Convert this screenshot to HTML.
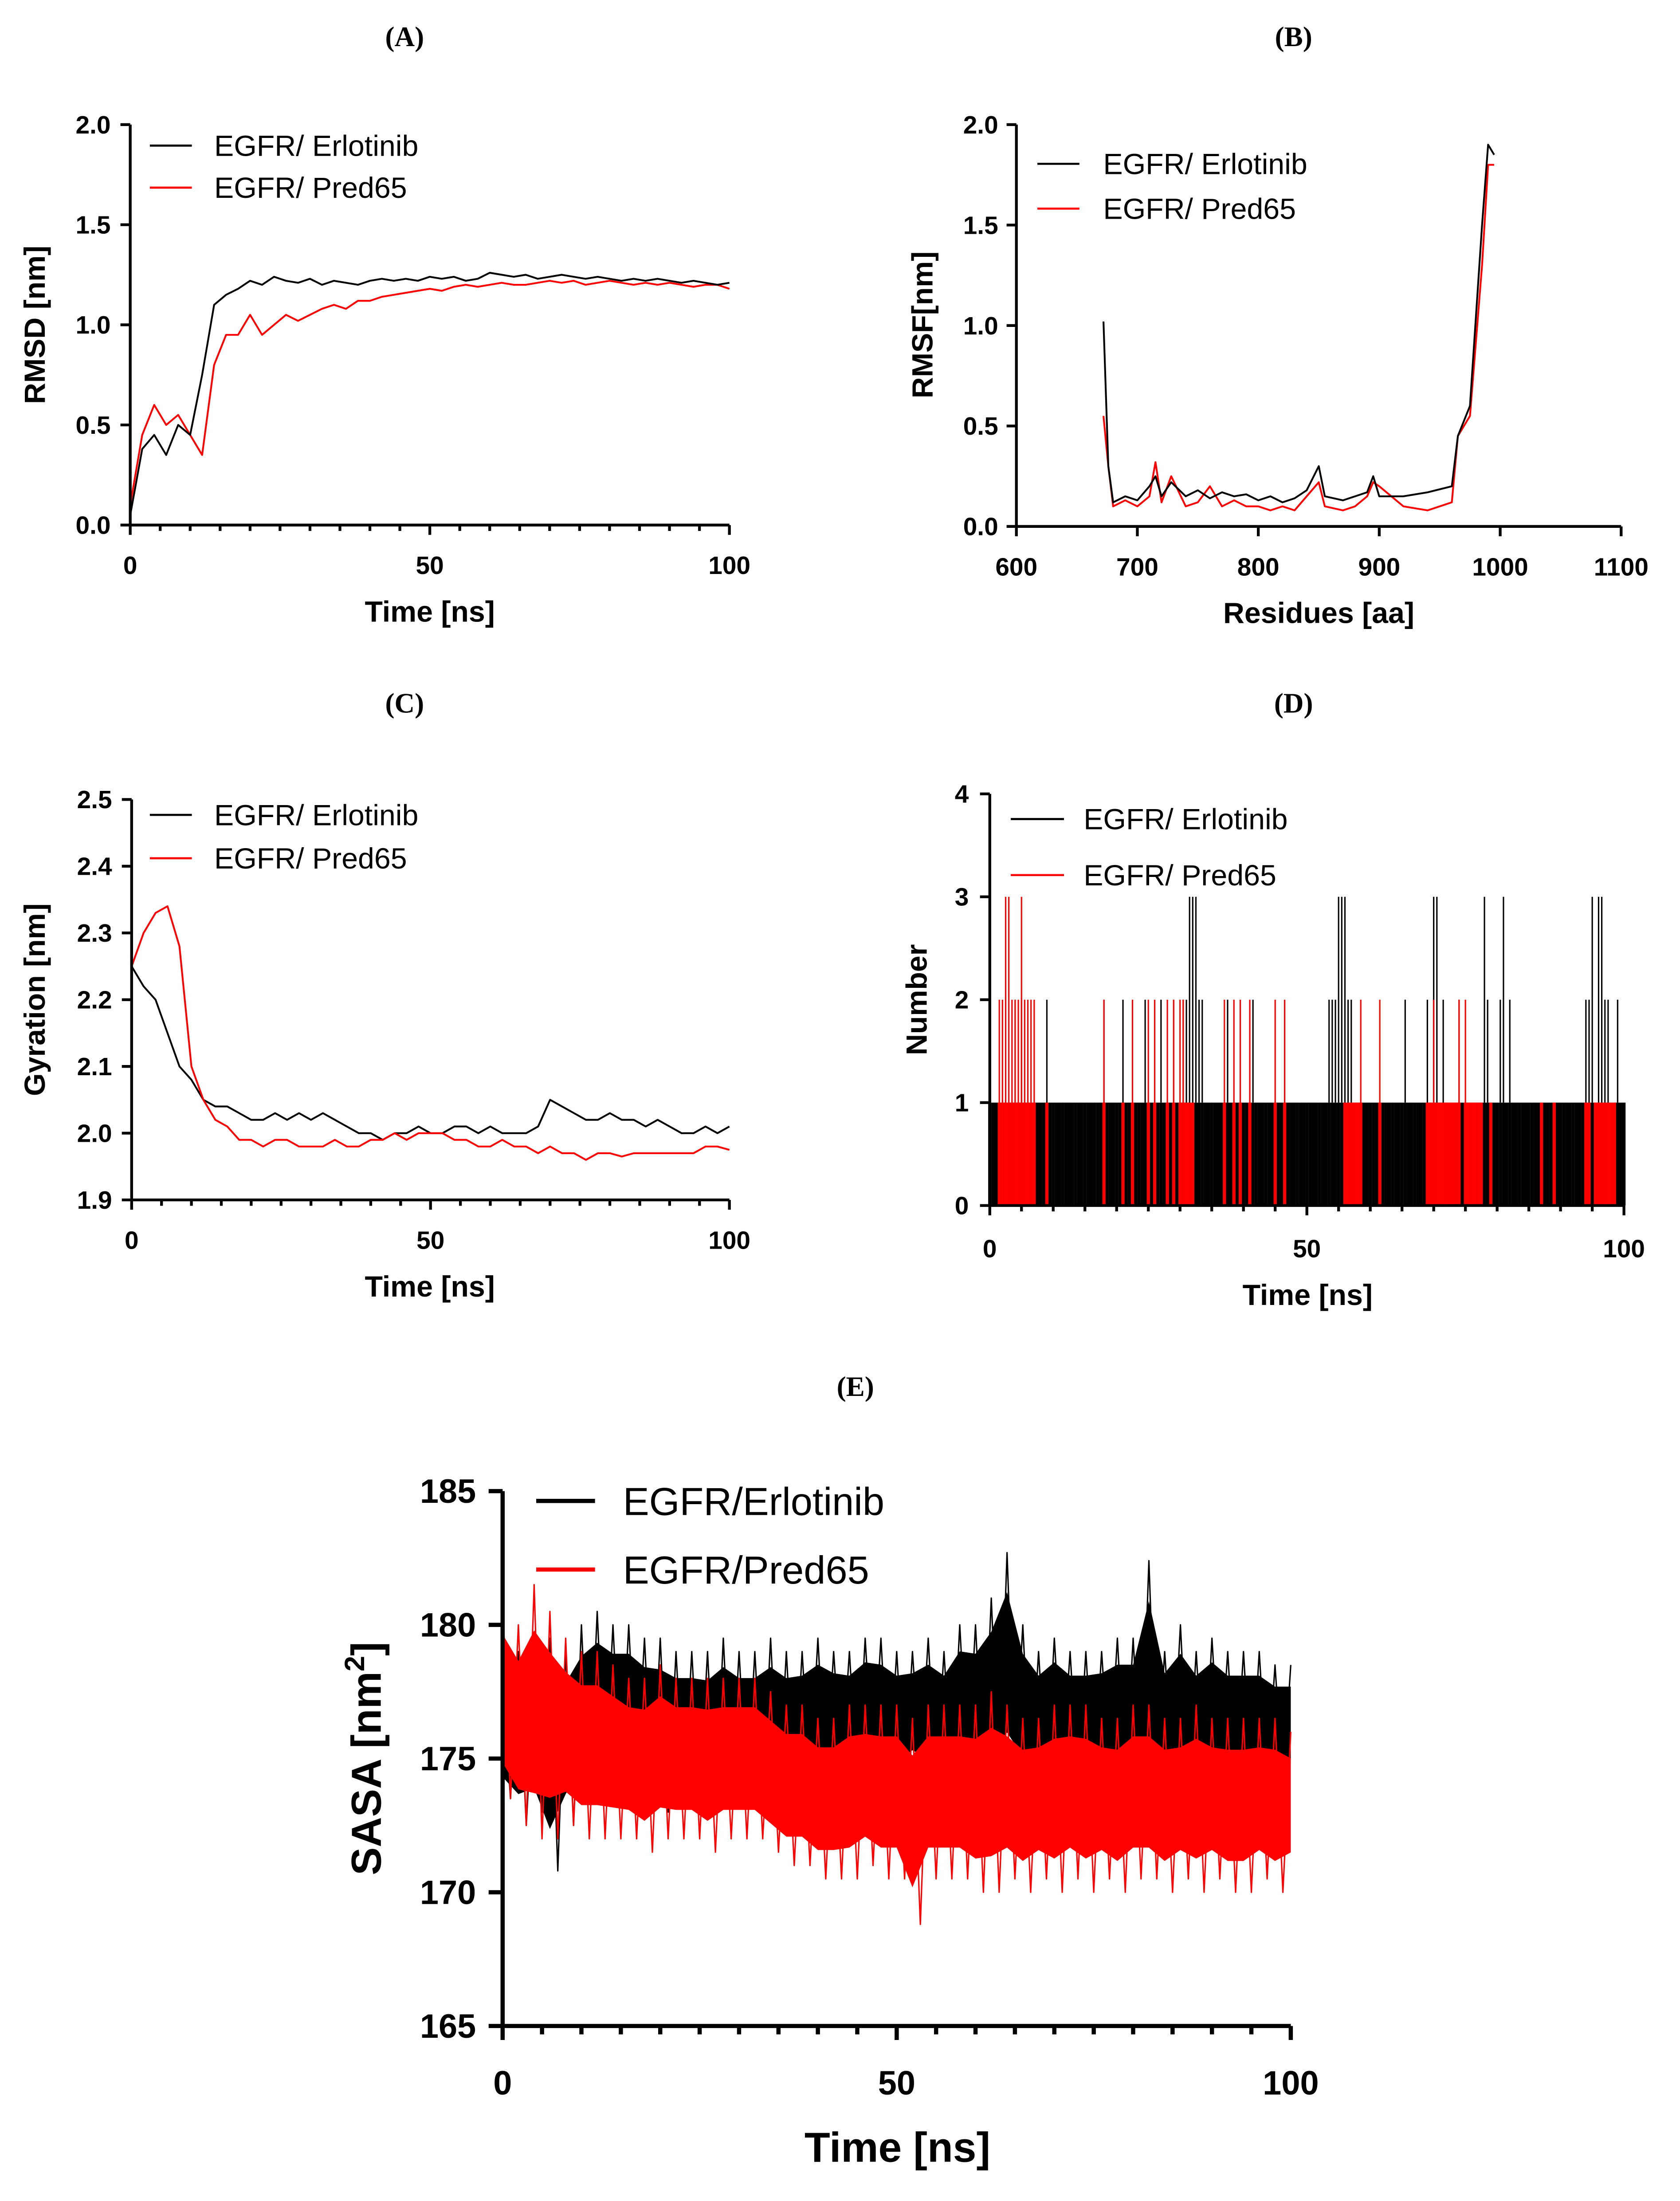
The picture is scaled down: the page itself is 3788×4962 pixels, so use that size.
<!DOCTYPE html>
<html><head><meta charset="utf-8"><style>
html,body{margin:0;padding:0;background:#fff}
svg{display:block}
text{font-family:"Liberation Sans",Arial,sans-serif}
.pl{font-family:"Liberation Serif",serif;font-weight:bold;font-size:20px}
.ti{font-weight:bold;font-size:21px}
</style></head><body>
<svg id="fig" xmlns="http://www.w3.org/2000/svg" width="3788" height="4962" viewBox="0 0 1200 1572">
<rect width="1200" height="1572" fill="#fff"/>
</svg>
<script>
const rmsdTimeStep = 2;
const rmsdErlotinib = [0.05,0.38,0.45,0.35,0.5,0.45,0.75,1.1,1.15,1.18,1.22,1.2,1.24,1.22,1.21,1.23,1.2,1.22,1.21,1.2,1.22,1.23,1.22,1.23,1.22,1.24,1.23,1.24,1.22,1.23,1.26,1.25,1.24,1.25,1.23,1.24,1.25,1.24,1.23,1.24,1.23,1.22,1.23,1.22,1.23,1.22,1.21,1.22,1.21,1.2,1.21];
const rmsdPred65 = [0.1,0.45,0.6,0.5,0.55,0.45,0.35,0.8,0.95,0.95,1.05,0.95,1.0,1.05,1.02,1.05,1.08,1.1,1.08,1.12,1.12,1.14,1.15,1.16,1.17,1.18,1.17,1.19,1.2,1.19,1.2,1.21,1.2,1.2,1.21,1.22,1.21,1.22,1.2,1.21,1.22,1.21,1.2,1.21,1.2,1.21,1.2,1.19,1.2,1.2,1.18];
const rmsfResidues = [672,676,680,690,700,710,715,720,728,740,750,760,770,780,790,800,810,820,830,840,850,855,870,880,890,895,900,920,940,960,965,975,985,990,995];
const rmsfErlotinib = [1.02,0.3,0.12,0.15,0.13,0.2,0.25,0.15,0.22,0.15,0.18,0.14,0.17,0.15,0.16,0.13,0.15,0.12,0.14,0.18,0.3,0.15,0.13,0.15,0.17,0.25,0.15,0.15,0.17,0.2,0.45,0.6,1.5,1.9,1.85];
const rmsfPred65 = [0.55,0.3,0.1,0.13,0.1,0.15,0.32,0.12,0.25,0.1,0.12,0.2,0.1,0.13,0.1,0.1,0.08,0.1,0.08,0.15,0.22,0.1,0.08,0.1,0.15,0.22,0.2,0.1,0.08,0.12,0.45,0.55,1.3,1.8,1.8];
const gyrErlotinib = [2.25,2.22,2.2,2.15,2.1,2.08,2.05,2.04,2.04,2.03,2.02,2.02,2.03,2.02,2.03,2.02,2.03,2.02,2.01,2.0,2.0,1.99,2.0,2.0,2.01,2.0,2.0,2.01,2.01,2.0,2.01,2.0,2.0,2.0,2.01,2.05,2.04,2.03,2.02,2.02,2.03,2.02,2.02,2.01,2.02,2.01,2.0,2.0,2.01,2.0,2.01];
const gyrPred65 = [2.25,2.3,2.33,2.34,2.28,2.1,2.05,2.02,2.01,1.99,1.99,1.98,1.99,1.99,1.98,1.98,1.98,1.99,1.98,1.98,1.99,1.99,2.0,1.99,2.0,2.0,2.0,1.99,1.99,1.98,1.98,1.99,1.98,1.98,1.97,1.98,1.97,1.97,1.96,1.97,1.97,1.965,1.97,1.97,1.97,1.97,1.97,1.97,1.98,1.98,1.975];
const hbErlotinib = ("11111111212111111121"+"11111111111111112111"+"11211111121111211121"+"12233322111111121111"+"11121111111111111111"+"11111112223332211111"+"11111111111211111121"+"33121111211111113211"+"12312111111111111111"+"11111111223133221121"+"1").split("").map(Number);
const hbPred65 = ("00022332223222200010"+"00000000000000002000"+"00100200002020002020"+"22111000000000200202"+"00200000002002000000"+"00000000000011111200"+"00020000000000000011"+"21111111202111110010"+"00000000000000100010"+"00000000110111111100"+"0").split("").map(Number);
const sasaErlHi = [178,179,178,179.5,179,180,180.5,180,180,179.5,179.5,179,179,179,179.5,179,179,179.5,179,179,179.5,179,179,179.5,179.5,179,179,179.5,179,180,180,181,182.7,180,179,179.5,179,179,179,179.5,179.5,182.4,179,180,179,179.5,179,179,179,178.5,178.5];
const sasaErlLo = [173.5,172.5,173,170.8,172.5,173.5,174,174,174,173.5,173,173.5,173.5,173,173.5,173.5,173.5,173.5,173.5,174,174,174.5,174,174.5,174,174,174.5,174,174,174.5,174,174,174.5,174,174,174.5,174,174,174.5,174,174,174,174.5,174,174,174.5,174,174,174,174,174];
const sasaPredHi = [181,180,181.5,180.5,179.5,179,179,178.5,178,178,178.5,178,178,178,178,178,178,177.5,177,177,176.5,176.5,177,177,177,177,176.5,177,177,177,177,177.5,177,176.5,176.5,177,177,177,176.5,176.5,177,177,176.5,176.5,177,176.5,176.5,176.5,176.5,176.5,176];
const sasaPredLo = [173.5,172.5,172,172,172.5,172,172,172,172,171.5,172,172,172,171.5,172,172,172,171.5,171,171,170.5,170.5,170.5,171,170.5,170.5,168.8,170.5,170.5,170.5,170,170,170.5,170,170.5,170,170.5,170,170.5,170,170.5,170.5,170,170.5,170,170.5,170,170,170.5,170,170.5];

const NS="http://www.w3.org/2000/svg";
const svg=document.getElementById('fig');
function el(tag,attrs,parent,txt){const e=document.createElementNS(NS,tag);for(const k in attrs)e.setAttribute(k,attrs[k]);if(txt!==undefined)e.textContent=txt;(parent||svg).appendChild(e);return e;}
function scale(d0,d1,r0,r1){return v=>r0+(v-d0)*(r1-r0)/(d1-d0);}

function axes(g,cfg){
  const {X,Y,x0,x1,y0,y1,xticks,yticks,xminor,sw,tl,fs,xlabY,ylabX,fmtY}=cfg;
  const xa=el('line',{x1:X(x0),y1:Y(y0),x2:X(x1),y2:Y(y0),stroke:'#000','stroke-width':sw},g);
  
  const ya=el('line',{x1:X(x0),y1:Y(y0),x2:X(x0),y2:Y(y1),stroke:'#000','stroke-width':sw},g);
  
  (xminor||[]).forEach(v=>el('line',{x1:X(v),y1:Y(y0),x2:X(v),y2:Y(y0)+tl*0.6,stroke:'#000','stroke-width':sw},g));
  xticks.forEach(v=>{el('line',{x1:X(v),y1:Y(y0),x2:X(v),y2:Y(y0)+tl,stroke:'#000','stroke-width':sw},g);
    const t=el('text',{x:X(v),y:xlabY,'text-anchor':'middle','font-size':fs,'font-weight':'bold'},g,String(v));
    });
  yticks.forEach(v=>{el('line',{x1:X(x0),y1:Y(v),x2:X(x0)-tl,y2:Y(v),stroke:'#000','stroke-width':sw},g);
    const t=el('text',{x:ylabX,y:Y(v)+fs*0.35,'text-anchor':'end','font-size':fs,'font-weight':'bold'},g,fmtY?fmtY(v):String(v));
    });
}
function line(g,xs,ys,X,Y,color,w,name){
  const p=el('polyline',{points:xs.map((x,i)=>X(x)+','+Y(ys[i])).join(' '),fill:'none',stroke:color,'stroke-width':w,'stroke-linejoin':'round'},g);
  
}
function legend(g,x,y,gap,len,tx,fs,lw){
  [['#000','EGFR/ Erlotinib'],['#f00','EGFR/ Pred65']].forEach((d,i)=>{
    el('line',{x1:x,y1:y+i*gap,x2:x+len,y2:y+i*gap,stroke:d[0],'stroke-width':lw},g);
    const t=el('text',{x:tx,y:y+i*gap+fs*0.35,'font-size':fs},g,d[1]);
    
  });
}
function label(txt,x,y,cls,name,rot,fs){
  const a={x:x,y:y,'text-anchor':'middle'};if(cls)a['class']=cls;if(fs)a['font-size']=fs;
  if(rot)a.transform='rotate(-90 '+x+' '+y+')';
  const t=el('text',a,svg,txt);return t;
}
const f1=v=>v.toFixed(1);
const times=(n,step)=>Array.from({length:n},(_,i)=>i*step);
const t5=[];for(let v=5;v<100;v+=5)if(v!==50)t5.push(v);

{const g=el('g',{});
 const X=scale(0,100,93,521),Y=scale(0,2,375,89);
 const ts=times(rmsdErlotinib.length,rmsdTimeStep);
 line(g,ts,rmsdPred65,X,Y,'#f00',1.3,'series-pred65');
 line(g,ts,rmsdErlotinib,X,Y,'#000',1.3,'series-erlotinib');
 axes(g,{X,Y,x0:0,x1:100,y0:0,y1:2,xticks:[0,50,100],yticks:[0,0.5,1,1.5,2],xminor:t5,sw:2,tl:7,fs:18,xlabY:410,ylabX:79,fmtY:f1});
 legend(g,107,104,30,30,153,21,1.5);
 label('(A)',289,33,'pl','panel-label-a');
 label('Time [ns]',307,444,'ti','x-axis-title');
 label('RMSD [nm]',32,232,'ti','y-axis-title',true);}
{const g=el('g',{});
 const X=scale(600,1100,726,1158),Y=scale(0,2,376,89);
 line(g,rmsfResidues,rmsfPred65,X,Y,'#f00',1.3,'series-pred65');
 line(g,rmsfResidues,rmsfErlotinib,X,Y,'#000',1.3,'series-erlotinib');
 axes(g,{X,Y,x0:600,x1:1100,y0:0,y1:2,xticks:[600,700,800,900,1000,1100],yticks:[0,0.5,1,1.5,2],sw:2,tl:7,fs:18,xlabY:411,ylabX:713,fmtY:f1});
 legend(g,741,117,32,30,788,21,1.5);
 label('(B)',924,33,'pl','panel-label-b');
 label('Residues [aa]',942,445,'ti','x-axis-title');
 label('RMSF[nm]',666,232,'ti','y-axis-title',true);}
{const g=el('g',{});
 const X=scale(0,100,94,521),Y=scale(1.9,2.5,857,571);
 const ts=times(gyrErlotinib.length,2);
 line(g,ts,gyrErlotinib,X,Y,'#000',1.3,'series-erlotinib');
 line(g,ts,gyrPred65,X,Y,'#f00',1.3,'series-pred65');
 axes(g,{X,Y,x0:0,x1:100,y0:1.9,y1:2.5,xticks:[0,50,100],yticks:[1.9,2,2.1,2.2,2.3,2.4,2.5],xminor:t5,sw:2,tl:7,fs:18,xlabY:892,ylabX:80,fmtY:f1});
 legend(g,107,582,31,30,153,21,1.5);
 label('(C)',289,509,'pl','panel-label-c');
 label('Time [ns]',307,926,'ti','x-axis-title');
 label('Gyration [nm]',32,714,'ti','y-axis-title',true);}
{const g=el('g',{});
 const X=scale(0,100,707,1160),Y=scale(0,4,861,567);
 const bar=(arr,color,name)=>arr.forEach((v,i)=>{if(v<=0)return;const x=X(i*0.5);
   const a=el('line',{x1:x,y1:Y(0),x2:x,y2:Y(Math.min(v,1)),stroke:color,'stroke-width':2.3},g);
   
   if(v>1){const b=el('line',{x1:x,y1:Y(1),x2:x,y2:Y(v),stroke:color,'stroke-width':1},g);
   }});
 bar(hbErlotinib,'#000','bar-erlotinib');
 bar(hbPred65,'#f00','bar-pred65');
 axes(g,{X,Y,x0:0,x1:100,y0:0,y1:4,xticks:[0,50,100],yticks:[0,1,2,3,4],xminor:t5,sw:2,tl:7,fs:18,xlabY:898,ylabX:692});
 legend(g,722,585,40,38,774,21,1.5);
 label('(D)',924,509,'pl','panel-label-d');
 label('Time [ns]',934,932,'ti','x-axis-title');
 label('Number',662,714,'ti','y-axis-title',true);}
{const g=el('g',{});
 const X=scale(0,100,359,922),Y=scale(165,185,1447,1065);
 const band=(hi,lo,color,name)=>{const xs=[],ys=[];const st=100/(hi.length-1);
   hi.forEach((h,i)=>{xs.push(i*st);ys.push(h);if(i<hi.length-1){xs.push(i*st+st/2);ys.push(lo[i]);}});
   line(g,xs,ys,X,Y,color,1,name);
   const pts=hi.map((h,i)=>X(i*st)+','+Y(h-(h-lo[i])*0.18)).concat(lo.map((l,i)=>X(i*st)+','+Y(l+(hi[i]-l)*0.18)).reverse());
   const p=el('polygon',{points:pts.join(' '),fill:color},g);};
 band(sasaErlHi,sasaErlLo,'#000','series-erlotinib');
 band(sasaPredHi,sasaPredLo,'#f00','series-pred65');
 axes(g,{X,Y,x0:0,x1:100,y0:165,y1:185,xticks:[0,50,100],yticks:[165,170,175,180,185],xminor:t5,sw:3,tl:10,fs:24,xlabY:1496,ylabX:340});
 [['#000','EGFR/Erlotinib'],['#f00','EGFR/Pred65']].forEach((d,i)=>{
   el('line',{x1:383,y1:1072+i*49,x2:425,y2:1072+i*49,stroke:d[0],'stroke-width':3},g);
   const t=el('text',{x:445,y:1082+i*49,'font-size':28},g,d[1]);
   });
 label('(E)',611,997,'pl','panel-label-e');
 label('Time [ns]',641,1544,null,'x-axis-title',false,30).setAttribute('font-weight','bold');
 const yt=label('',272,1256,null,'y-axis-title',true,30);yt.setAttribute('font-weight','bold');
 yt.innerHTML='SASA [nm<tspan dy="-12" font-size="20">2</tspan><tspan dy="12">]</tspan>';}
</script>
</body></html>
